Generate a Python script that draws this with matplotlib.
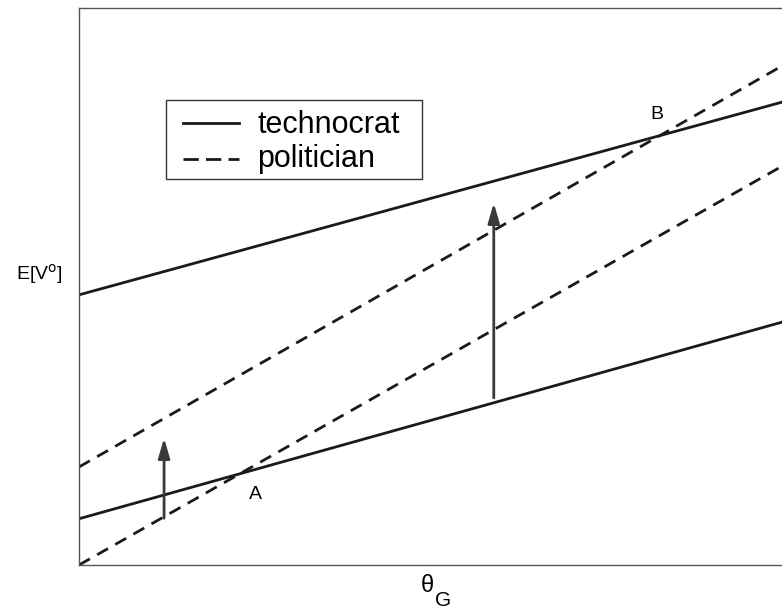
import numpy as np
import matplotlib.pyplot as plt
from matplotlib.patches import Rectangle

plt.rcParams['font.family'] = ['Liberation Sans', 'DejaVu Sans']

# endpoints of each line at theta_G = 0 and theta_G = 1
x_ends = [0.0, 1.0]
technocrat_high = [0.485, 0.831]
technocrat_low = [0.083, 0.436]
politician_high = [0.176, 0.896]
politician_low = [0.0, 0.716]

# arrows: x position, start y, end y
arrow_x = [0.121, 0.590]
arrow_y0 = [0.084, 0.300]
arrow_y1 = [0.228, 0.650]

# point labels
point_names = ["A", "B"]
point_x = [0.251, 0.822]
point_y = [0.126, 0.808]

# legend entries
legend_labels = ["technocrat", "politician"]

fig = plt.figure(figsize=(7.82, 6.11), dpi=100)
ax = fig.add_axes([79 / 782, 46 / 611, 703 / 782, 557 / 611])

line_col = "#1a1a1a"
dash = (0, (4.5, 3.0))
styles = ["-", (0, (5.5, 2.6))]

ax.plot(x_ends, technocrat_high, color=line_col, lw=2.0)
ax.plot(x_ends, technocrat_low, color=line_col, lw=2.0)
ax.plot(x_ends, politician_high, color=line_col, lw=2.0, linestyle=dash)
ax.plot(x_ends, politician_low, color=line_col, lw=2.0, linestyle=dash)

for x, y0, y1 in zip(arrow_x, arrow_y0, arrow_y1):
    ax.annotate("", xy=(x, y1), xytext=(x, y0),
                arrowprops=dict(arrowstyle="-|>,head_length=1.2,head_width=0.35",
                                color="#3a3a3a", lw=2.0, shrinkA=0, shrinkB=0))

for name, x, y in zip(point_names, point_x, point_y):
    ax.text(x, y, name, fontsize=14, ha="center", va="center")

ax.set_xlim(0, 1)
ax.set_ylim(0, 1)
ax.set_xticks([])
ax.set_yticks([])
ax.spines["right"].set_visible(False)
for s in ["left", "top", "bottom"]:
    ax.spines[s].set_color("#555555")
    ax.spines[s].set_linewidth(1.0)

# axis labels
fig.text(427 / 782, 1 - 586 / 611, "\u03b8", fontsize=17, ha="center", va="center")
fig.text(443 / 782, 1 - 600 / 611, "G", fontsize=15, ha="center", va="center")
ax.text(-0.023, 0.522, "E[V$^\\mathrm{o}$]", fontsize=14, ha="right", va="center",
        transform=ax.transAxes)


# legend box drawn by hand (pixel positions -> axes fraction)
def px(x, y):
    return (x - 79) / 703, (565 - y) / 557


x0, y0 = px(166, 179)
x1, y1 = px(422, 100)
ax.add_patch(Rectangle((x0, y0), x1 - x0, y1 - y0, transform=ax.transAxes,
                       facecolor="white", edgecolor="#333333", lw=1.0, zorder=5))
for i, (lab, ls) in enumerate(zip(legend_labels, styles)):
    ly = 123 + 36 * i
    a, b = px(183, ly)
    c, _ = px(239, ly)
    ax.plot([a, c], [b, b], color=line_col, lw=2.0, linestyle=ls,
            transform=ax.transAxes, zorder=6)
    tx, ty = px(257, 133 + 34 * i)
    ax.text(tx, ty, lab, fontsize=22, ha="left", va="baseline",
            transform=ax.transAxes, zorder=6)

fig.savefig("out.png", dpi=100)
